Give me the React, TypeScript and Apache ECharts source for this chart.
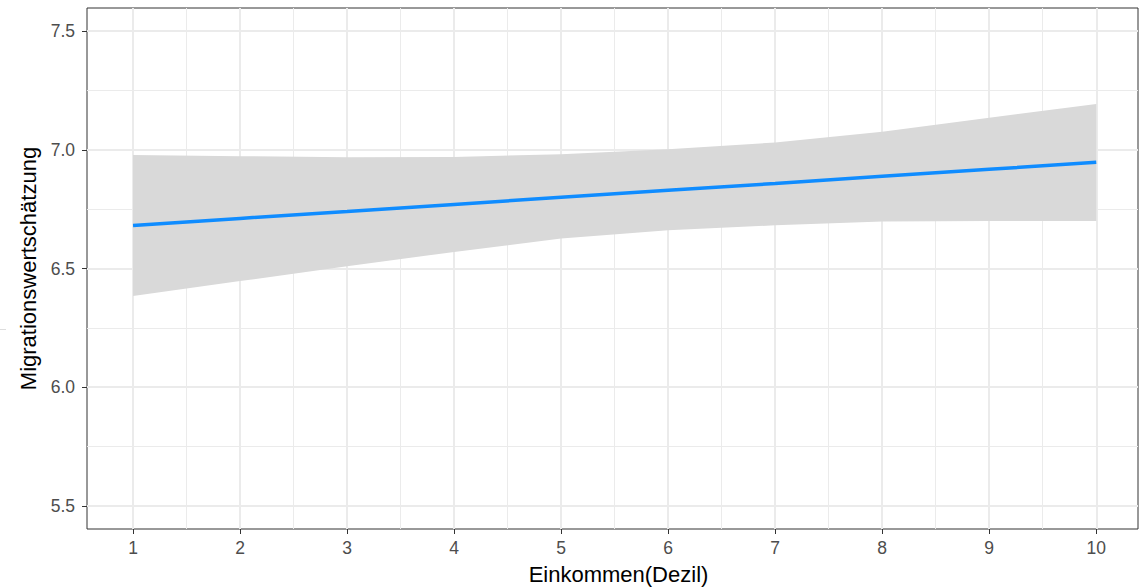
import React, { useEffect, useRef } from "react";
import * as echarts from "echarts";

const deciles = [1, 2, 3, 4, 5, 6, 7, 8, 9, 10];
const fitValues = [6.681, 6.711, 6.740, 6.770, 6.800, 6.830, 6.858, 6.888, 6.918, 6.947];
const upperValues = [6.978, 6.973, 6.968, 6.970, 6.981, 7.002, 7.031, 7.076, 7.135, 7.193];
const lowerValues = [6.384, 6.447, 6.509, 6.570, 6.626, 6.661, 6.682, 6.698, 6.700, 6.700];

const xMajorTicks = [1, 2, 3, 4, 5, 6, 7, 8, 9, 10];
const xMinorTicks = [1.5, 2.5, 3.5, 4.5, 5.5, 6.5, 7.5, 8.5, 9.5];
const yMajorTicks = [5.5, 6.0, 6.5, 7.0, 7.5];
const yMinorTicks = [5.75, 6.25, 6.75, 7.25];

const xRange = [0.57, 10.39];
const yRange = [5.403, 7.597];

const xTitle = "Einkommen(Dezil)";
const yTitle = "Migrationswertschätzung";

const FONT = "'Liberation Sans', Arial, sans-serif";

export default function App() {
  const ref = useRef<HTMLDivElement>(null);
  useEffect(() => {
    const chart = echarts.init(ref.current!, null, { renderer: "svg" });
    const tickStyle = { show: true, length: 5, inside: false, lineStyle: { color: "#333333", width: 1 } };
    const labelStyle = { color: "#4d4d4d", fontSize: 17.5, fontFamily: FONT };
    const bandData = deciles.map((d, i) => [d, lowerValues[i], upperValues[i]]);
    chart.setOption({
      animation: false,
      backgroundColor: "#ffffff",
      grid: {
        left: 87,
        right: 2,
        top: 8,
        bottom: 58,
        show: true,
        borderColor: "#333333",
        borderWidth: 1,
        backgroundColor: "transparent",
        containLabel: false,
        outerBoundsMode: "none",
      },
      xAxis: [
        {
          type: "value",
          min: xRange[0],
          max: xRange[1],
          axisLine: { show: false },
          axisTick: { ...tickStyle, customValues: xMajorTicks },
          axisLabel: { ...labelStyle, margin: 10, customValues: xMajorTicks, formatter: (v: number) => String(v) },
          splitLine: { show: true, lineStyle: { color: "#ebebeb", width: 2 } },
          name: xTitle,
          nameLocation: "middle",
          nameGap: 34,
          nameTextStyle: { color: "#000000", fontSize: 22, fontFamily: FONT, padding: [0, 0, 0, 12] },
          z: 1,
        },
        {
          type: "value",
          min: xRange[0],
          max: xRange[1],
          position: "bottom",
          axisLine: { show: false },
          axisTick: { show: false, customValues: xMinorTicks },
          axisLabel: { show: false, customValues: xMinorTicks },
          splitLine: { show: true, lineStyle: { color: "#ebebeb", width: 1 } },
          z: 0,
        },
      ],
      yAxis: [
        {
          type: "value",
          min: yRange[0],
          max: yRange[1],
          axisLine: { show: false },
          axisTick: { ...tickStyle, customValues: yMajorTicks },
          axisLabel: { ...labelStyle, margin: 12, customValues: yMajorTicks, formatter: (v: number) => v.toFixed(1) },
          splitLine: { show: true, lineStyle: { color: "#ebebeb", width: 2 } },
          name: yTitle,
          nameLocation: "middle",
          nameGap: 37,
          nameRotate: 90,
          nameTextStyle: { color: "#000000", fontSize: 22, fontFamily: FONT },
        },
        {
          type: "value",
          min: yRange[0],
          max: yRange[1],
          position: "left",
          axisLine: { show: false },
          axisTick: { show: false, customValues: yMinorTicks },
          axisLabel: { show: false, customValues: yMinorTicks },
          splitLine: { show: true, lineStyle: { color: "#ebebeb", width: 1 } },
        },
      ],
      series: [
        {
          type: "custom",
          name: "band",
          data: bandData,
          silent: true,
          z: 2,
          renderItem: (params: any, api: any) => {
            if (params.dataIndex !== 0) return null;
            const top = bandData.map((p) => api.coord([p[0], p[2]]));
            const bottom = bandData.map((p) => api.coord([p[0], p[1]])).reverse();
            return {
              type: "polygon",
              shape: { points: top.concat(bottom) },
              style: { fill: "#d9d9d9", stroke: "none" },
            };
          },
        },
        {
          type: "line",
          name: "fit",
          data: deciles.map((d, i) => [d, fitValues[i]]),
          symbol: "none",
          lineStyle: { color: "#0f8cff", width: 3.5 },
          z: 3,
        },
      ],
      graphic: [
        {
          type: "line",
          shape: { x1: 0, y1: 329.5, x2: 6, y2: 329.5 },
          style: { stroke: "#dddddd", lineWidth: 1 },
          silent: true,
        },
      ],
    });
    return () => chart.dispose();
  }, []);
  return (
    <div
      ref={ref}
      style={{ position: "fixed", left: 0, top: 0, width: 1140, height: 587, background: "#fff" }}
    />
  );
}
